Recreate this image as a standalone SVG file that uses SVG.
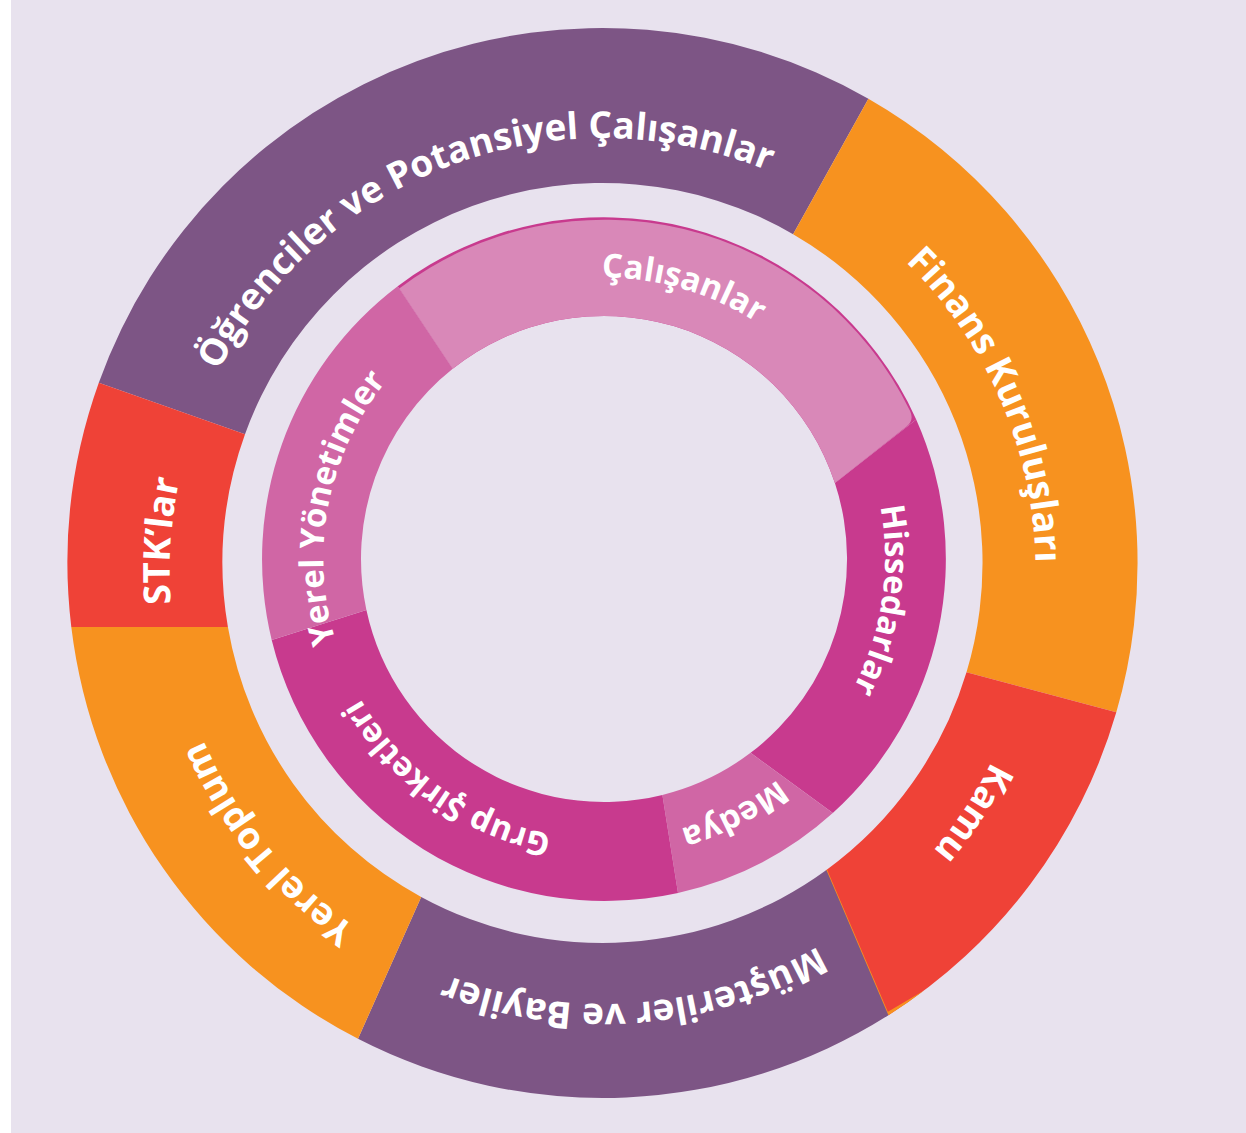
<svg xmlns="http://www.w3.org/2000/svg" xmlns:xlink="http://www.w3.org/1999/xlink" width="1246" height="1133" viewBox="0 0 1246 1133">
<style>
.purple{fill:#7D5585}
.orange{fill:#F7921F}
.red{fill:#EF4237}
.lpink{fill:#D988B8}
.mpink{fill:#D066A5}
.magenta{fill:#C83A8E}
.lbl{font-family:"Open Sans","Noto Sans","DejaVu Sans",sans-serif;font-weight:700;fill:#FFFFFF}
.outer{font-size:37px}
.inner{font-size:33px}
</style>
<defs>
<path id="t-ogr" d="M 176.1,646.2 A 433 433 0 0 1 977.5,354.5" fill="none"/>
<path id="t-fin" d="M 502.5,149.7 A 433 433 0 0 1 840.6,932.7" fill="none"/>
<path id="t-kam" d="M 898.9,255.3 A 433 433 0 0 1 431.9,969.0" fill="none"/>
<path id="t-mus" d="M 1033.4,613.3 A 433 433 0 0 1 183.1,678.7" fill="none"/>
<path id="t-yt" d="M 813.1,949.4 A 433 433 0 0 1 275.2,287.5" fill="none"/>
<path id="t-stk" d="M 498.5,991.3 A 433 433 0 0 1 556.5,140.5" fill="none"/>
<path id="t-cal" d="M 352.1,434.0 A 281 281 0 0 1 883.3,589.3" fill="none"/>
<path id="t-his" d="M 693.2,292.0 A 281 281 0 0 1 611.4,839.4" fill="none"/>
<path id="t-med" d="M 872.7,476.3 A 281 281 0 0 1 379.6,727.6" fill="none"/>
<path id="t-grp" d="M 801.3,758.6 A 281 281 0 0 1 350.2,438.0" fill="none"/>
<path id="t-yy" d="M 503.3,820.8 A 281 281 0 0 1 608.9,277.6" fill="none"/>
</defs>
<rect x="0" y="0" width="1246" height="1133" fill="#E8E2EE"/>
<rect x="0" y="0" width="11" height="1133" fill="#FFFFFF"/>

<g id="connectors"></g>

<g id="outer-ring">
<g id="ogrenciler">
<path class="purple" d="M 98.8,382.7 A 535 535 0 0 1 868.4,98.7 L 793.1,234.2 A 380 380 0 0 0 245.0,434.3 Z"/>
<text class="lbl outer"><textPath xlink:href="#t-ogr" href="#t-ogr" startOffset="50%" text-anchor="middle">Öğrenciler ve Potansiyel Çalışanlar</textPath></text>
</g>
<g id="finans">
<path class="orange" d="M 868.4,98.7 A 535 535 0 0 1 1116.3,712.3 L 966.5,672.2 A 380 380 0 0 0 793.1,234.2 Z"/>
<text class="lbl outer"><textPath xlink:href="#t-fin" href="#t-fin" startOffset="50%" text-anchor="middle">Finans Kuruluşları</textPath></text>
</g>
<g id="kamu">
<path class="red" d="M 1116.3,712.3 A 535 535 0 0 1 888.4,1015.2 L 826.4,870.0 A 380 380 0 0 0 966.5,672.2 Z"/>
<path class="orange" d="M 888.4,1015.2 A 535 535 0 0 0 924.5,990.3 L 887.5,1012.0 Z"/>
<line x1="826.4" y1="870.0" x2="888.0" y2="1014.0" stroke="#F7921F" stroke-width="1.5"/>
<text class="lbl outer"><textPath xlink:href="#t-kam" href="#t-kam" startOffset="50%" text-anchor="middle">Kamu</textPath></text>
</g>
<g id="musteriler">
<path class="purple" d="M 888.4,1015.2 A 535 535 0 0 1 358.0,1038.8 L 421.2,896.9 A 380 380 0 0 0 826.4,870.0 Z"/>
<text class="lbl outer"><textPath xlink:href="#t-mus" href="#t-mus" startOffset="50%" text-anchor="middle">Müşteriler ve Bayiler</textPath></text>
</g>
<g id="yerel-toplum">
<path class="orange" d="M 358.0,1038.8 A 535 535 0 0 1 71.3,627 L 227.9,627 A 380 380 0 0 0 421.2,896.9 Z"/>
<text class="lbl outer"><textPath xlink:href="#t-yt" href="#t-yt" startOffset="50%" text-anchor="middle">Yerel Toplum</textPath></text>
</g>
<g id="stk">
<path class="red" d="M 71.3,627 A 535 535 0 0 1 98.8,382.7 L 245.0,434.3 A 380 380 0 0 0 227.9,627 Z"/>
<text class="lbl outer"><textPath xlink:href="#t-stk" href="#t-stk" startOffset="50%" text-anchor="middle">STK’lar</textPath></text>
</g>
</g>

<g id="inner-ring">
<g id="hissedarlar">
<path class="magenta" d="M 916.2,419.4 A 342.5 342.5 0 0 1 832.8,813.1 L 750.6,752.8 A 243 243 0 0 0 834.9,483.1 Z"/>
<text class="lbl inner"><textPath xlink:href="#t-his" href="#t-his" startOffset="50%" text-anchor="middle">Hissedarlar</textPath></text>
</g>
<g id="medya">
<path class="mpink" d="M 832.8,813.1 A 342.5 342.5 0 0 1 678.0,892.9 L 662.4,794.9 A 243 243 0 0 0 750.6,752.8 Z"/>
<text class="lbl inner"><textPath xlink:href="#t-med" href="#t-med" startOffset="50%" text-anchor="middle">Medya</textPath></text>
</g>
<g id="grup-sirketleri">
<path class="magenta" d="M 678.0,892.9 A 342.5 342.5 0 0 1 271.7,640.0 L 366.4,609.9 A 243 243 0 0 0 662.4,794.9 Z"/>
<text class="lbl inner"><textPath xlink:href="#t-grp" href="#t-grp" startOffset="50%" text-anchor="middle">Grup Şirketleri</textPath></text>
</g>
<g id="yerel-yonetimler">
<path class="mpink" d="M 271.7,640.0 A 342.5 342.5 0 0 1 397.7,286.2 L 452.7,368.8 A 243 243 0 0 0 366.4,609.9 Z"/>
<text class="lbl inner"><textPath xlink:href="#t-yy" href="#t-yy" startOffset="50%" text-anchor="middle">Yerel Yönetimler</textPath></text>
</g>
<g id="calisanlar">
<path class="magenta" d="M 397.7,286.2 A 342.5 342.5 0 0 1 916.2,419.4 L 834.9,483.1 A 243 243 0 0 0 452.7,368.8 Z"/>
<path class="lpink" d="M 399.3,288.4 A 340 340 0 0 1 910.1,411.0 Q 914.4,420.2 906.6,426.4 L 834.9,483.1 A 243 243 0 0 0 452.7,368.8 Z"/>
<text class="lbl inner"><textPath xlink:href="#t-cal" href="#t-cal" startOffset="50%" text-anchor="middle">Çalışanlar</textPath></text>
</g>
</g>
</svg>
